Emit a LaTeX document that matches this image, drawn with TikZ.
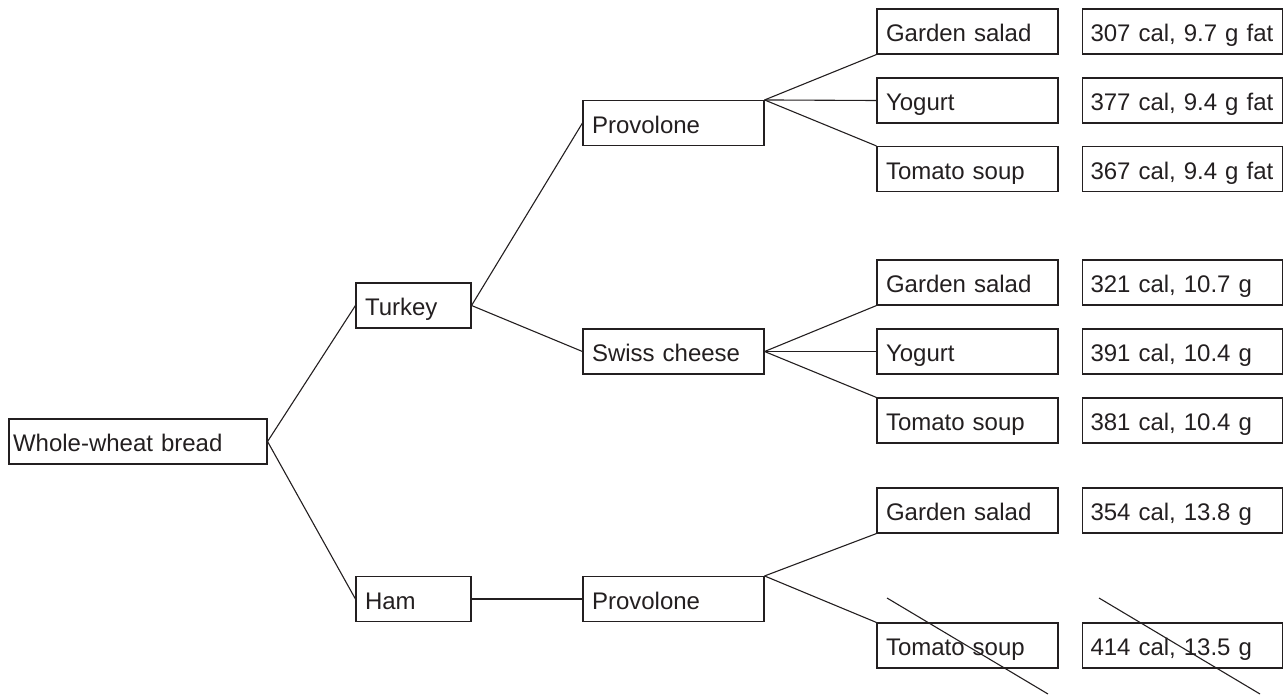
\documentclass[tikz,border=0pt]{standalone}
\usepackage{fontspec}
\setmainfont{Liberation Sans}
\definecolor{ink}{HTML}{231F20}
\begin{document}
\begin{tikzpicture}[x=1pt,y=-1pt,
  box/.style={draw=ink, line width=1.1pt, rectangle, inner xsep=9pt, inner ysep=0pt,
    minimum height=45pt, align=left, text height=20pt, text depth=0pt,
    font=\fontsize{24}{26}\selectfont, text=ink},
  w258/.style={box, text width=240pt},
  w115/.style={box, text width=97pt},
  w181/.style={box, text width=163pt},
  w200/.style={box, inner xsep=8pt, text width=184pt},
  conn/.style={draw=ink, line width=1.1pt},
  slash/.style={draw=ink, line width=1.1pt}]
\useasboundingbox (0,0) rectangle (1284,694);
\node[w258, inner xsep=4pt, text width=250pt] (wwb) at (138,441.5) {Whole-wheat bread};
\node[w115] (turkey) at (413.5,305.5) {Turkey};
\node[w115] (ham) at (413.5,599) {Ham};
\node[w181] (prov1) at (673.5,123) {Provolone};
\node[w181] (swiss) at (673.5,351.5) {Swiss cheese};
\node[w181] (prov2) at (673.5,599) {Provolone};
% option column
\node[w181] (g1) at (967.5,31.5) {Garden salad};
\node[w181] (y1) at (967.5,100.5) {Yogurt};
\node[w181] (t1) at (967.5,169) {Tomato soup};
\node[w181] (g2) at (967.5,282.5) {Garden salad};
\node[w181] (y2) at (967.5,351.5) {Yogurt};
\node[w181] (t2) at (967.5,420.5) {Tomato soup};
\node[w181] (g3) at (967.5,510.5) {Garden salad};
\node[w181] (t3) at (967.5,645.5) {Tomato soup};
% values column
\node[w200] (v1) at (1182.5,31.5) {307 cal, 9.7 g fat};
\node[w200] (v2) at (1182.5,100.5) {377 cal, 9.4 g fat};
\node[w200] (v3) at (1182.5,169) {367 cal, 9.4 g fat};
\node[w200] (v4) at (1182.5,282.5) {321 cal, 10.7 g};
\node[w200] (v5) at (1182.5,351.5) {391 cal, 10.4 g};
\node[w200] (v6) at (1182.5,420.5) {381 cal, 10.4 g};
\node[w200] (v7) at (1182.5,510.5) {354 cal, 13.8 g};
\node[w200] (v8) at (1182.5,645.5) {414 cal, 13.5 g};
% connectors
\draw[conn] (wwb.east) -- (turkey.west);
\draw[conn] (wwb.east) -- (ham.west);
\draw[conn] (turkey.east) -- (prov1.west);
\draw[conn] (turkey.east) -- (swiss.west);
\draw[conn] (ham.east) -- (prov2.west);
\draw[conn] (prov1.north east) -- (g1.south west);
\draw[conn] (prov1.north east) -- (y1.west);
\draw[conn] (prov1.north east) -- (t1.north west);
\draw[conn] (swiss.east) -- (g2.south west);
\draw[conn] (swiss.east) -- (y2.west);
\draw[conn] (swiss.east) -- (t2.north west);
\draw[conn] (prov2.north east) -- (g3.south west);
\draw[conn] (prov2.north east) -- (t3.north west);
% slashes
\coordinate (s1a) at (887,598);
\coordinate (s1b) at (1048,694);
\coordinate (s2a) at (1099,598);
\coordinate (s2b) at (1260,694);
\draw[slash] (s1a) -- (s1b);
\draw[slash] (s2a) -- (s2b);
\end{tikzpicture}
\end{document}
